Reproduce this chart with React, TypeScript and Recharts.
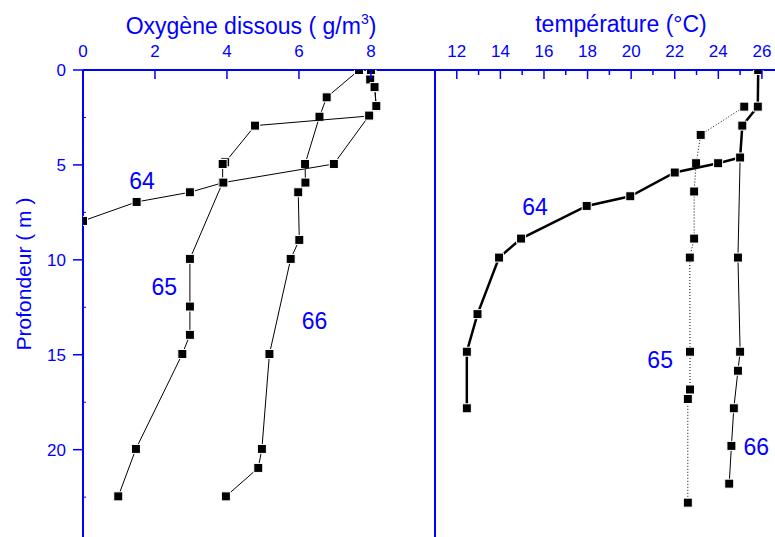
import React from "react";
import { ScatterChart, Scatter, XAxis, YAxis } from "recharts";

const BLUE = "#0000ff";
const FONT = "Arial, 'Liberation Sans', Helvetica, sans-serif";

// Oxygène dissous (g/m3) — profondeur (m)
const oxyDepth64 = [0, 0.5, 0.9, 1.9, 2.4, 4.95, 5.93, 6.44, 6.95, 7.95];
const oxyValue64 = [8.0, 7.98, 8.1, 8.15, 7.95, 6.97, 3.9, 2.97, 1.49, 0];
const oxyDepth65 = [0, 0.53, 0.93, 1.93, 2.42, 2.93, 4.86, 4.95, 5.93, 9.95, 12.46, 13.95, 14.96, 19.96, 22.46];
const oxyValue65 = [8.02, 7.99, 8.11, 8.14, 7.97, 4.78, 3.95, 3.88, 3.88, 2.97, 2.97, 2.97, 2.76, 1.47, 0.98];
const oxyDepth66 = [0, 1.44, 2.46, 4.95, 5.93, 6.44, 8.95, 9.95, 14.96, 19.96, 20.96, 22.46];
const oxyValue66 = [7.67, 6.77, 6.57, 6.17, 6.18, 5.98, 6.01, 5.77, 5.18, 4.97, 4.87, 3.97];

// température (°C) — profondeur (m)
const tempDepth64 = [0, 1.93, 2.93, 4.61, 4.91, 5.4, 6.65, 7.16, 8.88, 9.88, 12.86, 14.84, 17.82];
const tempValue64 = [25.83, 25.81, 25.1, 25.0, 23.99, 22.0, 19.96, 17.96, 14.95, 13.94, 12.95, 12.46, 12.46];
const tempDepth65 = [1.93, 3.42, 4.91, 6.4, 8.88, 9.88, 14.84, 16.83, 17.33, 22.79];
const tempValue65 = [25.19, 23.19, 22.98, 22.89, 22.89, 22.69, 22.7, 22.7, 22.6, 22.6];
const tempDepth66 = [0, 1.93, 2.93, 4.61, 9.88, 14.84, 15.84, 17.82, 19.8, 21.79];
const tempValue66 = [25.83, 25.81, 25.1, 25.0, 24.9, 25.0, 24.9, 24.71, 24.6, 24.5];

// étiquettes des stations
const stationNames = ["64", "65", "66"];
const oxyLabelValue = [1.64, 2.26, 6.43];
const oxyLabelDepth = [5.82, 11.4, 13.2];
const tempLabelValue = [15.59, 21.33, 25.74];
const tempLabelDepth = [7.19, 15.26, 19.83];

// graduations
const oxyTicks = [0, 2, 4, 6, 8];
const tempTicks = [12, 13, 14, 15, 16, 17, 18, 19, 20, 21, 22, 23, 24, 25, 26];
const depthTicks = [0, 2.5, 5, 7.5, 10, 12.5, 15, 17.5, 20, 22.5];
const sepTicks = [2.5, 5, 7.5, 10, 12.5, 15, 17.5, 20, 22.5];

const zip = (xs: number[], ys: number[]) => xs.map((x, i) => ({ x, y: ys[i] }));
const labels = (xs: number[], ys: number[]) =>
  xs.map((x, i) => ({ x, y: ys[i], name: stationNames[i] }));

const SquareDot = (props: any) => {
  const { cx, cy } = props;
  if (cx == null || cy == null) return null;
  return (
    <rect x={cx - 4.5} y={cy - 4.5} width={9} height={9} fill="#000" stroke="#fff" strokeWidth={1} />
  );
};

const StationLabel = (props: any) => (
  <text
    x={props.cx}
    y={props.cy}
    dy="0.36em"
    textAnchor="middle"
    fill={BLUE}
    fontSize={23}
    fontFamily={FONT}
  >
    {props.payload?.name}
  </text>
);

// graduation du haut : majeure = étiquetée
const TopTick = (props: any) => {
  const { x, y, payload } = props;
  const v = payload.value;
  const major = v % 2 === 0;
  return (
    <g>
      <line x1={x} x2={x} y1={y} y2={y + (major ? 9 : 5)} stroke={BLUE} strokeWidth={1.5} />
      {major && (
        <text x={x} y={y - 13} textAnchor="middle" fill={BLUE} fontSize={17} fontFamily={FONT}>
          {v}
        </text>
      )}
    </g>
  );
};

const DepthTick = (props: any) => {
  const { x, y, payload } = props;
  const v = payload.value;
  const major = v % 5 === 0;
  return (
    <g>
      {major ? (
        <line x1={x - 10} x2={x} y1={y} y2={y} stroke={BLUE} strokeWidth={1.5} />
      ) : (
        <line x1={x} x2={x + 3} y1={y} y2={y} stroke={BLUE} strokeWidth={1} />
      )}
      {major && (
        <text x={x - 17} y={y} dy="0.36em" textAnchor="end" fill={BLUE} fontSize={17} fontFamily={FONT}>
          {v}
        </text>
      )}
    </g>
  );
};

const axisLine = { stroke: BLUE, strokeWidth: 2 };
const thin = { stroke: "#000", strokeWidth: 1 };

const App: React.FC = (): JSX.Element => {
  return (
    <div style={{ position: "fixed", left: 0, top: 0, width: 775, height: 537, background: "#fff" }}>
      {/* Oxygène */}
      <div style={{ position: "absolute", left: 0, top: 0 }}>
        <ScatterChart width={441} height={537} margin={{ top: 0, right: 0, bottom: 0, left: 0 }}>
          <XAxis
            type="number"
            dataKey="x"
            orientation="top"
            height={70}
            domain={[0, 9.78]}
            ticks={oxyTicks}
            allowDataOverflow
            axisLine={axisLine}
            tickLine={false}
            tickSize={0}
            tickMargin={0}
            tick={TopTick}
          />
          <YAxis
            type="number"
            dataKey="y"
            width={83}
            reversed
            domain={[0, 24.6]}
            ticks={depthTicks}
            allowDataOverflow
            axisLine={axisLine}
            tickLine={false}
            tickSize={0}
            tickMargin={0}
            tick={DepthTick}
          />
          <YAxis
            yAxisId="sep"
            type="number"
            dataKey="y"
            orientation="right"
            width={6}
            reversed
            domain={[0, 24.6]}
            ticks={sepTicks}
            axisLine={axisLine}
            tickLine={{ stroke: BLUE, strokeWidth: 1 }}
            tickSize={3}
            tick={false}
          />
          <Scatter data={zip(oxyValue66, oxyDepth66)} line={thin} shape={SquareDot} isAnimationActive={false} />
          <Scatter data={zip(oxyValue65, oxyDepth65)} line={thin} shape={SquareDot} isAnimationActive={false} />
          <Scatter data={zip(oxyValue64, oxyDepth64)} line={thin} shape={SquareDot} isAnimationActive={false} />
          <Scatter data={labels(oxyLabelValue, oxyLabelDepth)} shape={StationLabel} isAnimationActive={false} />
        </ScatterChart>
      </div>

      {/* Température */}
      <div style={{ position: "absolute", left: 435, top: 0 }}>
        <ScatterChart width={340} height={537} margin={{ top: 0, right: 0, bottom: 0, left: 0 }}>
          <XAxis
            type="number"
            dataKey="x"
            orientation="top"
            height={70}
            domain={[11, 26.6]}
            ticks={tempTicks}
            allowDataOverflow
            axisLine={axisLine}
            tickLine={false}
            tickSize={0}
            tickMargin={0}
            tick={TopTick}
          />
          <YAxis hide type="number" dataKey="y" reversed domain={[0, 24.6]} allowDataOverflow />
          <Scatter
            data={zip(tempValue65, tempDepth65)}
            line={{ stroke: "#000", strokeWidth: 1, strokeDasharray: "1 2" }}
            shape={SquareDot}
            isAnimationActive={false}
          />
          <Scatter data={zip(tempValue66, tempDepth66)} line={thin} shape={SquareDot} isAnimationActive={false} />
          <Scatter
            data={zip(tempValue64, tempDepth64)}
            line={{ stroke: "#000", strokeWidth: 2.5 }}
            shape={SquareDot}
            isAnimationActive={false}
          />
          <Scatter data={labels(tempLabelValue, tempLabelDepth)} shape={StationLabel} isAnimationActive={false} />
        </ScatterChart>
      </div>

      {/* Titres */}
      <div
        style={{
          position: "absolute",
          left: 101,
          width: 300,
          top: 14.5,
          textAlign: "center",
          color: BLUE,
          fontFamily: FONT,
          fontSize: 23,
          lineHeight: "23px",
          whiteSpace: "nowrap",
        }}
      >
        Oxygène dissous ( g/m<span style={{ fontSize: 14, position: "relative", top: -10 }}>3</span>)
      </div>
      <div
        style={{
          position: "absolute",
          left: 471,
          width: 300,
          top: 12.5,
          textAlign: "center",
          color: BLUE,
          fontFamily: FONT,
          fontSize: 23,
          lineHeight: "23px",
          whiteSpace: "nowrap",
        }}
      >
        température (°C)
      </div>
      <div
        style={{
          position: "absolute",
          left: 22.5,
          top: 274,
          transform: "translate(-50%, -50%) rotate(-90deg)",
          color: BLUE,
          fontFamily: FONT,
          fontSize: 21,
          lineHeight: "21px",
          whiteSpace: "nowrap",
        }}
      >
        Profondeur ( m )
      </div>
    </div>
  );
};

export default App;
